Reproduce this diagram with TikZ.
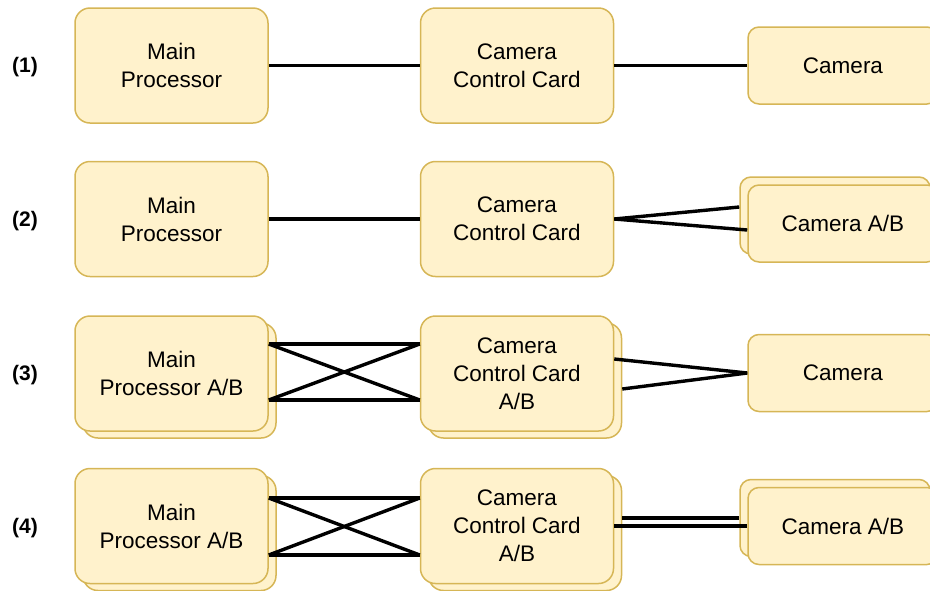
\documentclass[tikz,border=0pt]{standalone}
\usepackage{fontspec}
\setmainfont{Liberation Sans}
\definecolor{boxfill}{HTML}{FFF2CC}
\definecolor{boxline}{HTML}{D6B656}
\tikzset{
  unit/.style={draw=boxline, fill=boxfill, line width=1.5pt, align=center,
    inner sep=0pt, font=\fontsize{22.5}{28}\selectfont},
  bigbox/.style={unit, minimum width=193pt, minimum height=115pt, rounded corners=15pt},
  cambox/.style={unit, minimum width=190pt, minimum height=77pt, rounded corners=11pt},
  link/.style={line width=3.4pt, black},
  rowlabel/.style={font=\fontsize{21}{24}\selectfont\bfseries, inner sep=0pt}
}
\begin{document}
\begin{tikzpicture}[x=1pt, y=-1pt]
\clip (0,0) rectangle (930,590);

% row labels
\node[rowlabel] (lab1) at (25,67.5) {(1)};
\node[rowlabel] (lab2) at (25,221) {(2)};
\node[rowlabel] (lab3) at (25,375) {(3)};
\node[rowlabel] (lab4) at (25,528.5) {(4)};

% ---- row 1: single chain
\node[bigbox] (mp1) at (171.5,65.5) {Main\\Processor};
\node[bigbox] (cc1) at (517,65.5) {Camera\\Control Card};
\node[cambox] (cam1) at (843,65.5) {Camera};
\draw[link] (mp1.east) -- (cc1.west);
\draw[link] (cc1.east) -- (cam1.west);

% ---- row 2: redundant camera
\node[bigbox] (mp2) at (171.5,219) {Main\\Processor};
\node[bigbox] (cc2) at (517,219) {Camera\\Control Card};
\node[cambox] (cam2b) at (835,215.5) {};
\node[cambox] (cam2) at (843,223.5) {Camera A/B};
\draw[link] (mp2.east) -- (cc2.west);
\draw[link] (cc2.east) -- ([yshift=8.5pt]cam2b.west);
\draw[link] (cc2.east) -- ([yshift=-6.5pt]cam2.west);

% ---- row 3: redundant processor and control card
\node[bigbox] (mp3b) at (179.5,380.5) {};
\node[bigbox] (mp3) at (171.5,373.5) {Main\\Processor A/B};
\node[bigbox] (cc3b) at (525,380.5) {};
\node[bigbox] (cc3) at (517,373.5) {Camera\\Control Card\\A/B};
\node[cambox] (cam3) at (843,373) {Camera};
\draw[link] ([yshift=29.5pt]mp3.east) -- ([yshift=29.5pt]cc3.west);
\draw[link] ([yshift=-26.5pt]mp3.east) -- ([yshift=-26.5pt]cc3.west);
\draw[link] ([yshift=29.5pt]mp3.east) -- ([yshift=-26.5pt]cc3.west);
\draw[link] ([yshift=-26.5pt]mp3.east) -- ([yshift=29.5pt]cc3.west);
\draw[link] ([yshift=14.5pt]cc3.east) -- (cam3.west);
\draw[link] ([yshift=-8.5pt]cc3b.east) -- (cam3.west);

% ---- row 4: fully redundant
\node[bigbox] (mp4b) at (179.5,533) {};
\node[bigbox] (mp4) at (171.5,526) {Main\\Processor A/B};
\node[bigbox] (cc4b) at (525,533) {};
\node[bigbox] (cc4) at (517,526) {Camera\\Control Card\\A/B};
\node[cambox] (cam4b) at (835,518) {};
\node[cambox] (cam4) at (843,526) {Camera A/B};
\draw[link] ([yshift=28pt]mp4.east) -- ([yshift=28pt]cc4.west);
\draw[link] ([yshift=-29pt]mp4.east) -- ([yshift=-29pt]cc4.west);
\draw[link] ([yshift=28pt]mp4.east) -- ([yshift=-29pt]cc4.west);
\draw[link] ([yshift=-29pt]mp4.east) -- ([yshift=28pt]cc4.west);
\draw[link] ([yshift=15pt]cc4b.east) -- (cam4b.west);
\draw[link] (cc4.east) -- (cam4.west);
\end{tikzpicture}
\end{document}
